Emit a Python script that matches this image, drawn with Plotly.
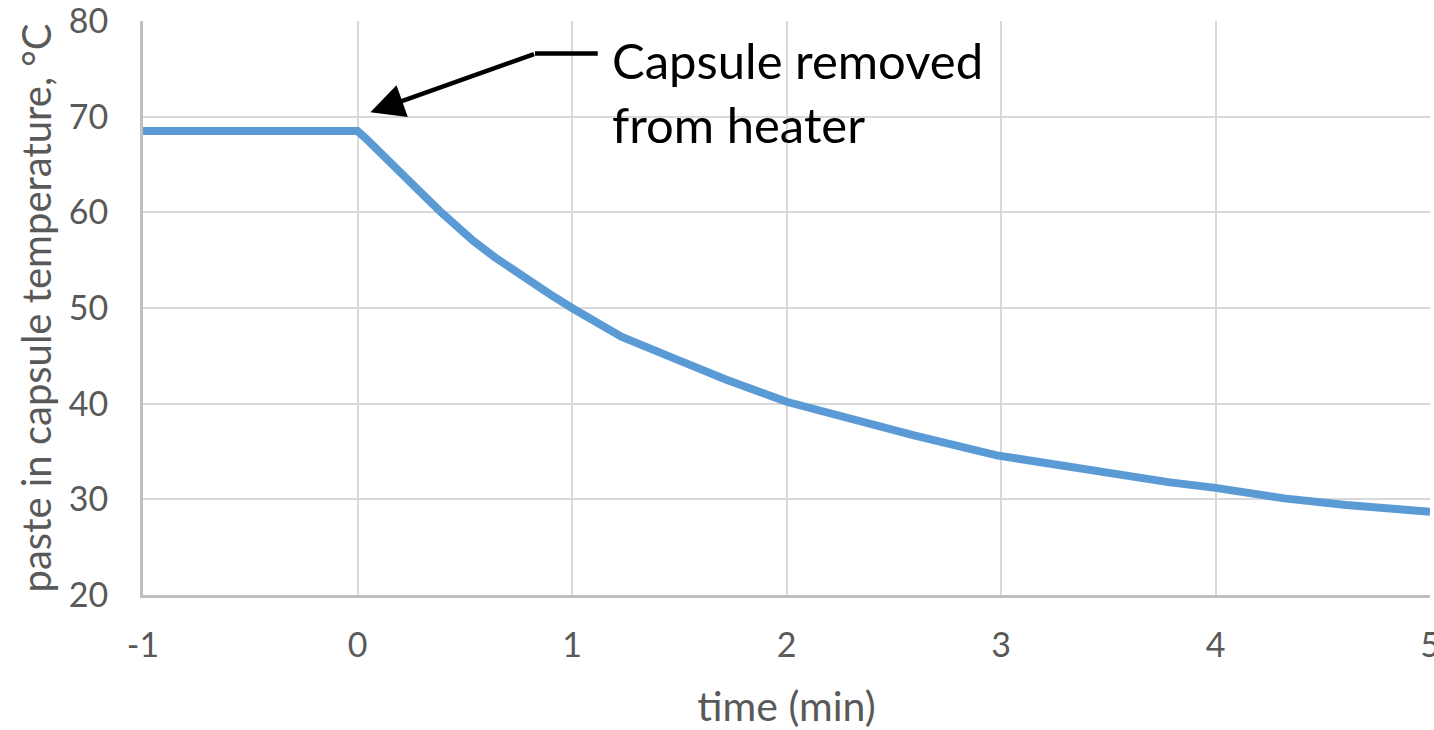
import plotly.graph_objects as go

# Temperature of the paste inside the capsule (minutes relative to removal from the heater)
time_min = [-1.0, -0.75, -0.73, -0.71, -0.66, -0.64, -0.62, -0.53, -0.52, -0.47, -0.45,
            -0.37, -0.35, -0.33, -0.16, -0.14, -0.12, 0.0, 0.04, 0.11, 0.17, 0.24, 0.29,
            0.39, 0.45, 0.54, 0.64, 0.78, 0.9, 1.0, 1.23, 1.49, 1.72, 2.0, 2.28, 2.59,
            2.98, 3.31, 3.54, 3.78, 4.0, 4.32, 4.61, 5.0]
temp_c = [68.5, 68.5, 68.3, 68.5, 68.5, 68.3, 68.5, 68.5, 68.3, 68.3, 68.5,
          68.5, 68.3, 68.5, 68.5, 68.3, 68.5, 68.5, 67.7, 66.1, 64.8, 63.3, 62.2,
          60.0, 58.7, 57.0, 55.3, 53.1, 51.4, 50.0, 47.0, 44.6, 42.5, 40.2, 38.5, 36.7,
          34.6, 33.4, 32.7, 31.8, 31.2, 30.1, 29.4, 28.7]

x_ticks = [-1, 0, 1, 2, 3, 4, 5]
y_ticks = [20, 30, 40, 50, 60, 70, 80]

FONT = "Lato"
GREY = "#595959"

fig = go.Figure()
fig.add_trace(go.Scatter(
    x=time_min, y=temp_c, mode="lines",
    line=dict(color="#5B9BD5", width=8),
    hoverinfo="skip", showlegend=False,
))

# Callout: short horizontal leader then an arrow down to the removal moment
fig.add_shape(type="line", xref="x", yref="y",
              x0=0.8275, y0=76.6, x1=1.12, y1=76.6,
              line=dict(color="black", width=4.5))
fig.add_annotation(x=0.06, y=70.45, ax=0.83, ay=76.6, axref="x", ayref="y",
                   xref="x", yref="y", text="", showarrow=True,
                   arrowhead=2, arrowsize=1.5, arrowwidth=4.5, arrowcolor="black",
                   standoff=0, startstandoff=0)
fig.add_annotation(x=1.175, y=72.6, xref="x", yref="y", xanchor="left", yanchor="middle",
                   text="Capsule removed<br>from heater", showarrow=False, align="left",
                   font=dict(family=FONT, size=49, color="black"))

fig.update_layout(
    width=1434, height=730,
    margin=dict(l=143, r=4, t=21, b=135),
    paper_bgcolor="white", plot_bgcolor="white",
    font=dict(family=FONT, color=GREY),
)
fig.update_xaxes(
    range=[-1, 5], tickvals=x_ticks, ticktext=[str(v) for v in x_ticks],
    showgrid=True, gridcolor="#d9d9d9", gridwidth=2,
    showline=True, linecolor="#bfbfbf", linewidth=3,
    ticks="outside", ticklen=18, tickcolor="rgba(0,0,0,0)",
    ticklabeloverflow="allow", automargin=False,
    tickfont=dict(size=34, color=GREY, family=FONT), zeroline=False,
    title=dict(text="time (min)", font=dict(size=41, color=GREY, family=FONT), standoff=32),
)
fig.update_yaxes(
    range=[20, 80], tickvals=y_ticks, ticktext=[str(v) for v in y_ticks],
    showgrid=True, gridcolor="#d9d9d9", gridwidth=2,
    showline=True, linecolor="#bfbfbf", linewidth=3,
    ticks="outside", ticklen=25, tickcolor="rgba(0,0,0,0)",
    ticklabeloverflow="allow", automargin=False,
    tickfont=dict(size=34, color=GREY, family=FONT), zeroline=False,
    title=dict(text="paste in capsule temperature, °C",
               font=dict(size=40, color=GREY, family=FONT), standoff=5),
)

fig.write_html("out.html")
